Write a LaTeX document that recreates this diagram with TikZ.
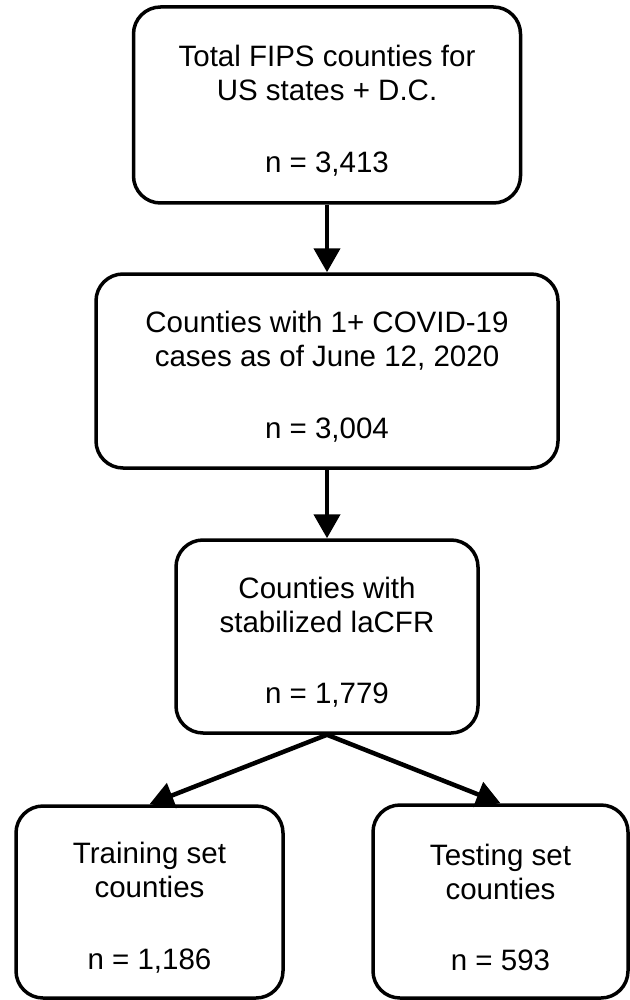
\documentclass[tikz,border=0pt]{standalone}
\usepackage{fontspec}
\setmainfont{Liberation Sans}
\usetikzlibrary{arrows.meta}
\tikzset{
  box/.style={draw, line width=3.5pt, rounded corners=27pt, align=center,
    font=\fontsize{29.5}{34}\selectfont, inner sep=0pt, fill=white},
  arr/.style={line width=4.5pt, -{Triangle[length=24pt,width=26pt]}},
}
\newcommand{\topstrut}{\rule{0pt}{33pt}}
\begin{document}
\begin{tikzpicture}[x=1pt,y=-1pt]
\useasboundingbox (0,0) rectangle (629,1000);
\node[box, minimum width=387pt, minimum height=196pt] (b1) at (327,105)
  {\topstrut Total FIPS counties for\\US states + D.C.\\[37.5pt]n = 3,413};
\node[box, minimum width=462pt, minimum height=194pt] (b2) at (327,371)
  {\topstrut Counties with 1+ COVID-19\\cases as of June 12, 2020\\[37.5pt]n = 3,004};
\node[box, minimum width=302pt, minimum height=193pt] (b3) at (327,636.5)
  {\topstrut Counties with\\stabilized laCFR\\[37.5pt]n = 1,779};
\node[box, minimum width=267pt, minimum height=192pt] (b4) at (149.5,902)
  {\topstrut Training set\\counties\\[37.5pt]n = 1,186};
\node[box, minimum width=255pt, minimum height=193pt] (b5) at (500.5,901.5)
  {\topstrut Testing set\\counties\\[37.5pt]n = 593};
\draw[arr] (b1.south) -- (b2.north);
\draw[arr] (b2.south) -- (b3.north);
\draw[arr] (b3.south) -- (b4.north);
\draw[arr] (b3.south) -- (b5.north);
\end{tikzpicture}
\end{document}
